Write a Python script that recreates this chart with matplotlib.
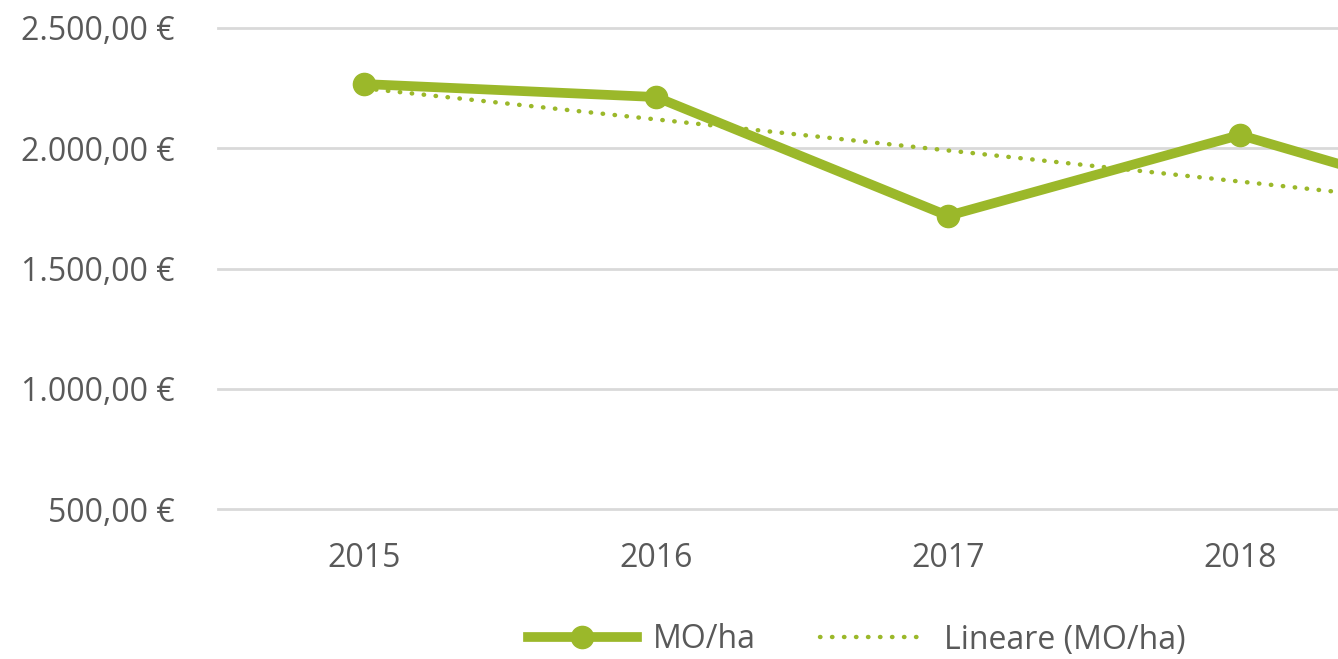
import numpy as np
import matplotlib
matplotlib.use("Agg")
import matplotlib.pyplot as plt
from matplotlib.ticker import FuncFormatter

years = ["2015", "2016", "2017", "2018", "2019"]
mo_ha = [2267, 2213, 1719, 2055, 1700]

green = "#9BB82A"
text_color = "#595959"

plt.rcParams["font.family"] = ["Open Sans", "DejaVu Sans"]

x = np.arange(len(years))
slope, intercept = np.polyfit(x, mo_ha, 1)
trend = slope * x + intercept

fig = plt.figure(figsize=(13.38, 6.59), dpi=100)
ax = fig.add_axes([218 / 1338, 1 - 509 / 659, 1 - 218 / 1338, (509 - 28) / 659])

ax.plot(x, mo_ha, color=green, lw=7, marker="o", markersize=16,
        label="MO/ha", zorder=3)
ax.plot(x, trend, color=green, lw=3.2, linestyle=(0, (0.1, 2.6)),
        dash_capstyle="round", label="Lineare (MO/ha)", zorder=2)

ax.set_xlim(-0.5, 3.336)
ax.set_ylim(500, 2500)
ax.set_yticks([500, 1000, 1500, 2000, 2500])
ax.set_xticks(x[:4])
ax.set_xticklabels(years[:4])

def euro(v, pos):
    s = f"{v:,.2f}".replace(",", "X").replace(".", ",").replace("X", ".")
    return s + " €"

ax.yaxis.set_major_formatter(FuncFormatter(euro))
ax.grid(axis="y", color="#D9D9D9", lw=2)
for gl in ax.get_ygridlines():
    gl.set_clip_on(False)
ax.set_axisbelow(True)
for s in ax.spines.values():
    s.set_visible(False)
ax.tick_params(axis="both", length=0, labelsize=23, colors=text_color)
ax.tick_params(axis="y", pad=31)
ax.tick_params(axis="x", pad=24)

fig.legend(loc="center", bbox_to_anchor=(857 / 1338, 1 - 640 / 659), ncol=2,
           frameon=False, fontsize=23, labelcolor=text_color, handlelength=3.4,
           columnspacing=2.0, handletextpad=0.5)

fig.savefig("out.png", dpi=100)
